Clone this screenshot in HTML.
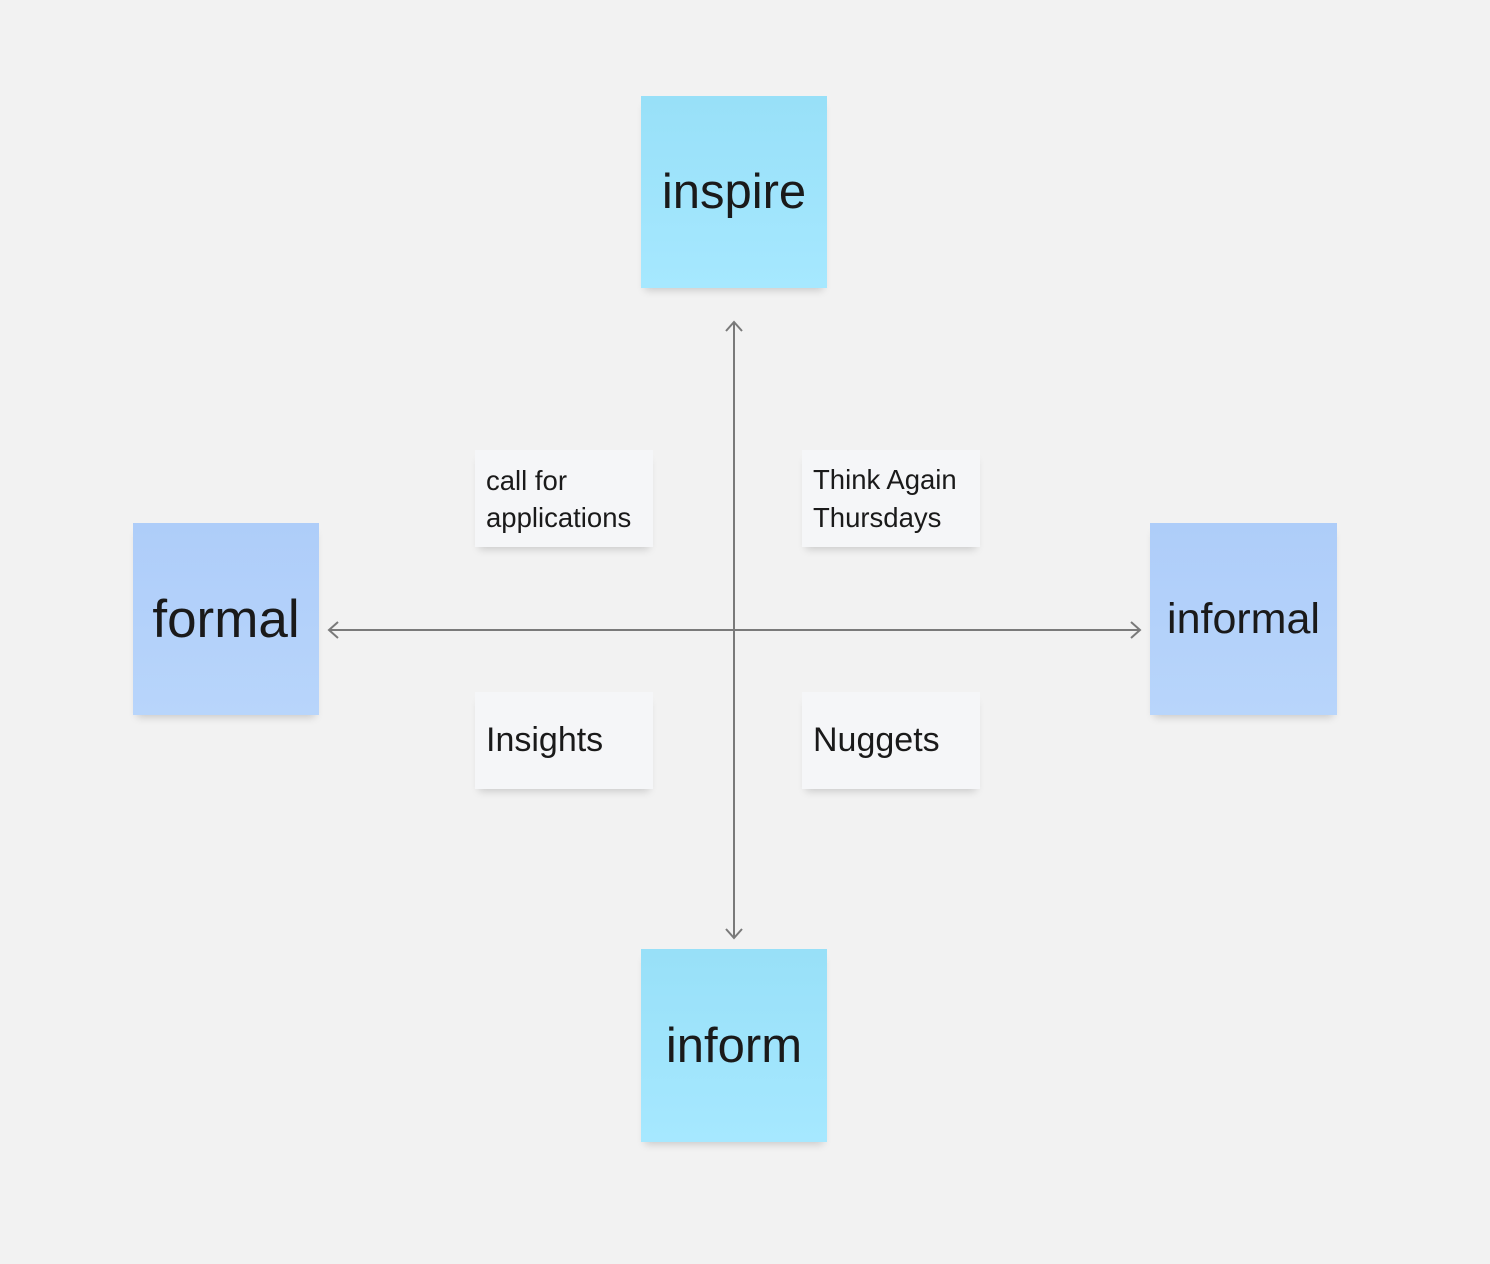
<!DOCTYPE html>
<html><head><style>
body{margin:0;width:1490px;height:1264px;background:#f2f2f2;position:relative;overflow:hidden;font-family:"Liberation Sans",sans-serif;color:#1a1a1a}
.n{position:absolute;box-shadow:0 6px 8px -4px rgba(0,0,0,0.18);display:flex;align-items:center;justify-content:center}
.c{background:linear-gradient(#98e0f8,#a6e8ff)}
.b{background:linear-gradient(#aecdf9,#b8d5fb)}
.w{background:#f5f6f8;justify-content:flex-start;padding-left:11px;box-sizing:border-box}
</style></head><body>
<div class="n c" style="left:641px;top:96px;width:186px;height:192px;font-size:49px">inspire</div>
<div class="n c" style="left:641px;top:949px;width:186px;height:193px;font-size:49px">inform</div>
<div class="n b" style="left:133px;top:523px;width:186px;height:192px;font-size:53px">formal</div>
<div class="n b" style="left:1150px;top:523px;width:187px;height:192px;font-size:43px">informal</div>
<div class="n w" style="left:475px;top:450px;width:178px;height:97px;font-size:27.5px;line-height:37px">call for<br>applications</div>
<div class="n w" style="left:802px;top:450px;width:178px;height:97px;font-size:27.5px;line-height:38px">Think Again<br>Thursdays</div>
<div class="n w" style="left:475px;top:692px;width:178px;height:97px;font-size:34px">Insights</div>
<div class="n w" style="left:802px;top:692px;width:178px;height:97px;font-size:34px">Nuggets</div>
<svg width="1490" height="1264" style="position:absolute;left:0;top:0" fill="none" stroke="#7a7a7a" stroke-width="2">
<line x1="329" y1="630" x2="1140" y2="630"/>
<line x1="734" y1="322" x2="734" y2="938"/>
<polyline points="338,622 329,630 338,638"/>
<polyline points="1131,622 1140,630 1131,638"/>
<polyline points="726,331 734,322 742,331"/>
<polyline points="726,929 734,938 742,929"/>
</svg>
</body></html>
